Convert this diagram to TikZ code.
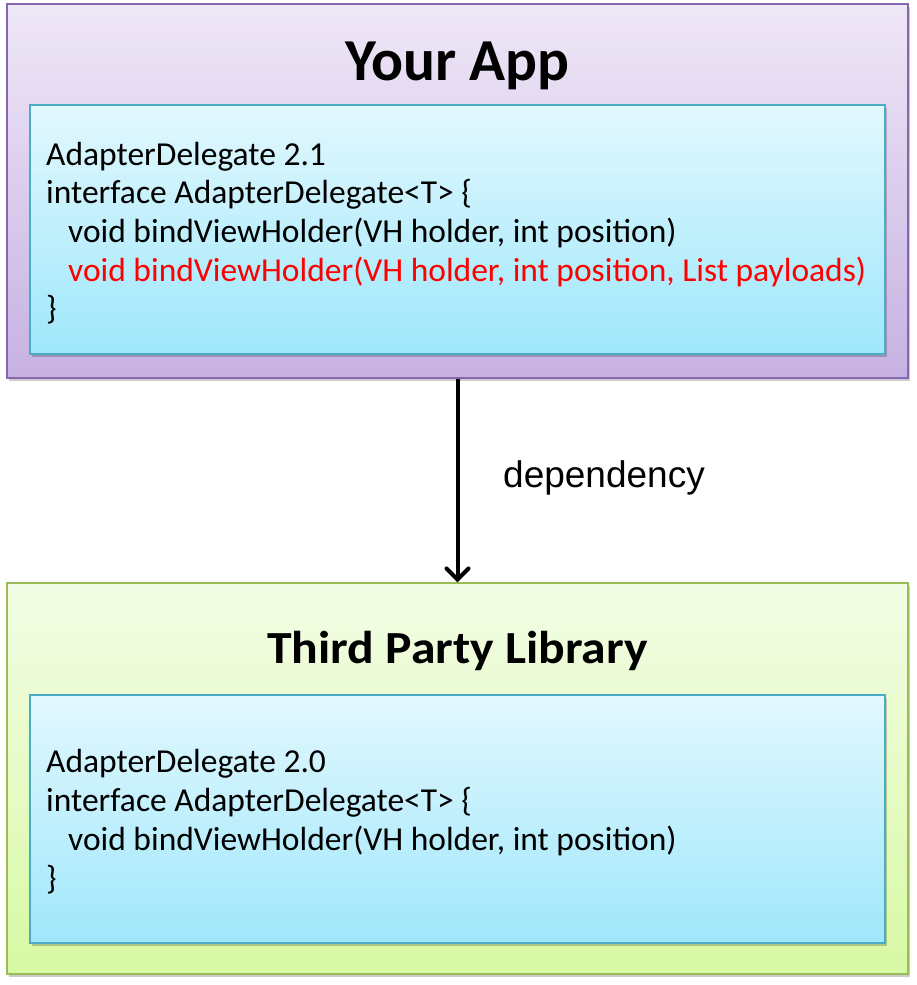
\documentclass[tikz,border=0pt]{standalone}
\usepackage{fontspec}
\setmainfont{Carlito}
\newfontfamily\arialfont{Liberation Sans}
\usetikzlibrary{arrows.meta,shadows}
\definecolor{purpTop}{HTML}{EFE8F7}
\definecolor{purpBot}{HTML}{C7B1E2}
\definecolor{purpLine}{HTML}{8467AE}
\definecolor{blueTop}{HTML}{E2F8FE}
\definecolor{blueBot}{HTML}{9FE7FB}
\definecolor{blueLine}{HTML}{4BACC6}
\definecolor{greenTop}{HTML}{F3FDE6}
\definecolor{greenBot}{HTML}{D8F9A4}
\definecolor{greenLine}{HTML}{9BBB59}
\definecolor{codeRed}{HTML}{FF0000}
\tikzset{
  outerbox/.style={draw, line width=1.5pt, minimum width=901pt, inner sep=0pt,
    drop shadow={shadow xshift=2pt, shadow yshift=-3pt, opacity=0.2, fill=black}},
  innerbox/.style={draw=blueLine, line width=1.5pt, minimum width=855pt, inner sep=0pt,
    top color=blueTop, bottom color=blueBot,
    drop shadow={shadow xshift=2pt, shadow yshift=-3pt, opacity=0.2, fill=black}},
  title/.style={font=\bfseries\fontsize{59.5}{66}\selectfont, anchor=base},
  code/.style={font=\fontsize{33.5}{39}\selectfont, anchor=base west, inner sep=0pt},
  depend/.style={font=\arialfont\fontsize{37}{44}\selectfont, anchor=base west, inner sep=0pt},
  arrowline/.style={line width=4pt, -{Straight Barb[length=11pt, width=22pt, line width=4pt, line cap=round]}}
}
\begin{document}
\begin{tikzpicture}[x=1pt, y=-1pt]
\useasboundingbox (0,0) rectangle (916,985);
% Your App
\node[outerbox, draw=purpLine, minimum height=374pt, top color=purpTop, bottom color=purpBot] (app) at (457.5,191) {};
\node[innerbox, minimum height=249pt] (appbox) at (457.5,229.5) {};
\node[title] (apptitle) at (457.5,80) {Your App};
\node[code] (a1) at (46,165) {AdapterDelegate 2.1};
\node[code] (a2) at (46,203.7) {interface AdapterDelegate<T> \{};
\node[code] (a3) at (68,242.4) {void bindViewHolder(VH holder, int position)};
\node[code, text=codeRed] (a4) at (68,281) {void bindViewHolder(VH holder, int position, List payloads)};
\node[code] (a5) at (46,319.8) {\}};
% Third Party Library
\node[outerbox, draw=greenLine, minimum height=391pt, top color=greenTop, bottom color=greenBot] (lib) at (457.5,778.5) {};
\node[innerbox, minimum height=248pt] (libbox) at (457.5,819) {};
\node[title, font=\bfseries\fontsize{46}{52}\selectfont] (libtitle) at (457.5,663) {\scalebox{1.08}[1]{Third Party Library}};
\node[code] (b1) at (46,772) {AdapterDelegate 2.0};
\node[code] (b2) at (46,811) {interface AdapterDelegate<T> \{};
\node[code] (b3) at (68,850) {void bindViewHolder(VH holder, int position)};
\node[code] (b4) at (46,889) {\}};
% dependency
\draw[arrowline] (app.south) -- (lib.north);
\node[depend] (dep) at (503,487) {dependency};
\end{tikzpicture}
\end{document}
